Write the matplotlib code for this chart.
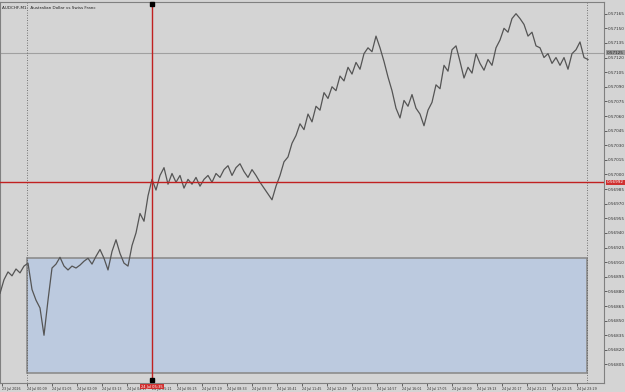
import numpy as np
import matplotlib
matplotlib.use("Agg")
import matplotlib.pyplot as plt
from matplotlib.patches import Rectangle

symbol_title = "AUDCHF,M1:  Australian Dollar vs Swiss Franc"

# close prices, one point per sample
close = [
    0.56878, 0.56892, 0.56900, 0.56896, 0.56903, 0.56899, 0.56906, 0.56909,
    0.56882, 0.56871, 0.56863, 0.56835, 0.56871, 0.56904, 0.56908, 0.56915,
    0.56906, 0.56902, 0.56906, 0.56904, 0.56907, 0.56911, 0.56914, 0.56908,
    0.56916, 0.56923, 0.56914, 0.56902, 0.56921, 0.56933, 0.56919, 0.56909,
    0.56906, 0.56927, 0.56940, 0.56960, 0.56952, 0.56978, 0.56995, 0.56984,
    0.56999, 0.57007, 0.56990, 0.57001, 0.56992, 0.56999, 0.56986, 0.56995,
    0.56990, 0.56997, 0.56988, 0.56995, 0.56999, 0.56992, 0.57001, 0.56997,
    0.57005, 0.57009, 0.56999, 0.57007, 0.57011, 0.57003, 0.56997, 0.57005,
    0.56999, 0.56992, 0.56986, 0.56980, 0.56974, 0.56988, 0.56999, 0.57013,
    0.57018, 0.57032, 0.57040, 0.57052, 0.57046, 0.57062, 0.57054, 0.57070,
    0.57066, 0.57084, 0.57078, 0.57090, 0.57086, 0.57101, 0.57096, 0.57110,
    0.57103, 0.57115, 0.57108, 0.57124, 0.57130, 0.57126, 0.57142, 0.57130,
    0.57116, 0.57100, 0.57086, 0.57068, 0.57058, 0.57076, 0.57070, 0.57082,
    0.57068, 0.57062, 0.57050, 0.57066, 0.57074, 0.57092, 0.57088, 0.57112,
    0.57106, 0.57128, 0.57132, 0.57116, 0.57099, 0.57110, 0.57104, 0.57124,
    0.57114, 0.57107, 0.57118, 0.57112, 0.57130, 0.57138, 0.57150, 0.57146,
    0.57160, 0.57165, 0.57160, 0.57154, 0.57142, 0.57146, 0.57132, 0.57130,
    0.57120, 0.57124, 0.57114, 0.57120, 0.57112, 0.57120, 0.57108, 0.57124,
    0.57128, 0.57136, 0.57120, 0.57118,
]

time_labels = [
    "23 Jul 2026", "24 Jul 00:09", "24 Jul 01:05", "24 Jul 02:09",
    "24 Jul 03:13", "24 Jul 04:17", "24 Jul 05:21", "24 Jul 06:25",
    "24 Jul 07:29", "24 Jul 08:33", "24 Jul 09:37", "24 Jul 10:41",
    "24 Jul 11:45", "24 Jul 12:49", "24 Jul 13:53", "24 Jul 14:57",
    "24 Jul 16:01", "24 Jul 17:05", "24 Jul 18:09", "24 Jul 19:13",
    "24 Jul 20:17", "24 Jul 21:21", "24 Jul 22:25", "24 Jul 23:29",
]

price_ticks = [0.57165 - 0.00015 * k for k in range(25)]

bid_level = 0.57125          # grey price line
cross_price = 0.56992        # crosshair price
cross_time = "24 Jul 05:35"  # crosshair time
box_top = 0.56914
box_bottom = 0.56796

# index values for the drawn objects
cross_idx = 38
sep_left = 6.75
sep_right = 146.75

BG = "#d4d4d4"
W, H = 625, 392

fig = plt.figure(figsize=(W / 100, H / 100), dpi=100, facecolor=BG)
ax = fig.add_axes([0, 9 / H, 604 / W, 381 / H], facecolor=BG)

x = np.arange(len(close))
ax.set_xlim(0, 151)
ax.set_ylim(0.56786, 0.57177)

# blue rectangle
rect = Rectangle((sep_left, box_bottom), sep_right - sep_left, box_top - box_bottom,
                 facecolor="#bccadf", edgecolor="#8c8c8c", linewidth=1.2, zorder=1)
ax.add_patch(rect)

ax.axhline(bid_level, color="#a0a0a0", linewidth=0.8, zorder=2)
ax.axvline(sep_left, color="#555555", linewidth=0.6, linestyle=(0, (1, 2)), zorder=2)
ax.axvline(sep_right, color="#555555", linewidth=0.6, linestyle=(0, (1, 2)), zorder=2)

ax.plot(x, close, color="#555555", linewidth=0.9, zorder=3)

# crosshair
ax.axhline(cross_price, color="#c02020", linewidth=1.0, zorder=4)
ax.axvline(cross_idx, color="#c02020", linewidth=1.0, zorder=4)
ax.plot([cross_idx, cross_idx], [0.57175, 0.56789], "s", color="black",
        markersize=3, clip_on=False, zorder=5)

for s in ax.spines.values():
    s.set_color("#808080")
    s.set_linewidth(0.8)

# right price scale
ax.yaxis.tick_right()
ax.set_yticks(price_ticks)
ax.set_yticklabels(["%.5f" % v for v in price_ticks])
ax.tick_params(axis="y", labelsize=3, length=2, width=0.5, pad=1,
               colors="#303030")

ax.text(1.005, bid_level, "%.5f" % bid_level, transform=ax.get_yaxis_transform(),
        fontsize=3, va="center", ha="left", color="#202020",
        bbox=dict(boxstyle="square,pad=0.15", fc="#9a9a9a", ec="none"))
ax.text(1.005, cross_price, "%.5f" % cross_price, transform=ax.get_yaxis_transform(),
        fontsize=3, va="center", ha="left", color="white",
        bbox=dict(boxstyle="square,pad=0.15", fc="#d03030", ec="none"))

# time scale
tick_pos = np.arange(len(time_labels)) * 6.25 + 0.5
ax.set_xticks(tick_pos)
ax.set_xticklabels(time_labels, ha="left")
ax.tick_params(axis="x", labelsize=2.3, length=2, width=0.5, pad=1,
               colors="#303030")

ax.text(cross_idx, -0.004, cross_time, transform=ax.get_xaxis_transform(),
        fontsize=2.6, va="top", ha="center", color="white",
        bbox=dict(boxstyle="square,pad=0.25", fc="#d03030", ec="none"), zorder=6)

ax.text(0.003, 0.99, symbol_title, transform=ax.transAxes, fontsize=3,
        va="top", ha="left", color="#202020")

fig.savefig("out.png", dpi=100, facecolor=BG)
